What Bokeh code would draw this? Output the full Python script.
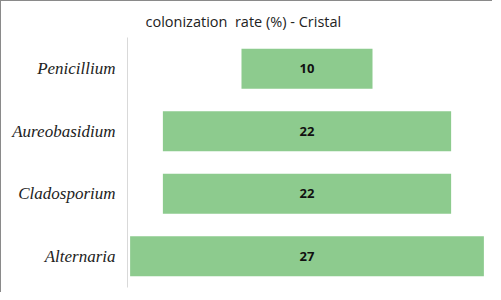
from bokeh.plotting import figure
from bokeh.models import Range1d, ColumnDataSource, Title
from bokeh.core.properties import value
from bokeh.embed import file_html
from bokeh.resources import INLINE

genera = ["Alternaria", "Cladosporium", "Aureobasidium", "Penicillium"]
rates = [27, 22, 22, 10]
title_text = "colonization\u00a0 rate (%) - Cristal"

src = ColumnDataSource(dict(
    y=genera,
    left=[-v / 2 for v in rates],
    right=[v / 2 for v in rates],
    label=[str(v) for v in rates],
    x=[0] * len(rates),
))

p = figure(width=492, height=292, y_range=genera, x_range=Range1d(-13.7, 13.7),
           output_backend="svg", toolbar_location=None, x_axis_location=None,
           min_border_left=126, min_border_right=7, min_border_top=36, min_border_bottom=6)
p.styles = {"border-left": "1px solid #8a8a8a", "border-top": "1px solid #8a8a8a"}
p.outline_line_color = None
p.xgrid.visible = False
p.ygrid.visible = False

p.hbar(y="y", left="left", right="right", height=0.64, source=src,
       fill_color="#8dcb8e", line_color=None)
p.text(x="x", y="y", text="label", source=src, text_align="center", text_baseline="middle",
       text_font=value("Open Sans"), text_font_style="bold", text_font_size="13px",
       text_color="#111111")

ax = p.yaxis[0]
ax.major_tick_line_color = None
ax.minor_tick_line_color = None
ax.axis_line_color = "#d9d9d9"
ax.major_label_text_font = "Liberation Serif"
ax.major_label_text_font_style = "italic"
ax.major_label_text_font_size = "17px"
ax.major_label_text_color = "#222222"
ax.major_label_standoff = 6

t = Title(text=title_text, align="left", offset=18, text_font="Open Sans",
          text_font_size="14.5px", text_font_style="normal", text_color="#222222", standoff=13)
p.add_layout(t, "above")

open("out.html", "w").write(file_html(p, INLINE))
